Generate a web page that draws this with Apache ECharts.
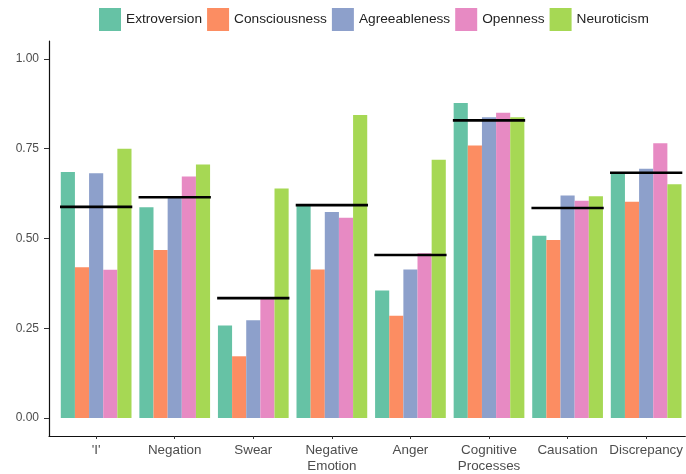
<!DOCTYPE html>
<html>
<head>
<meta charset="utf-8">
<title>Personality vs LIWC categories</title>
<script src="https://cdn.jsdelivr.net/npm/echarts@6/dist/echarts.min.js"></script>
<style>
  html, body { margin: 0; padding: 0; background: #fff; }
  #chart { width: 686px; height: 474px; }
</style>
</head>
<body>
<div id="chart"></div>
<script>
// categories on the x axis
var categories = ["'I'", "Negation", "Swear", "Negative\nEmotion", "Anger", "Cognitive\nProcesses", "Causation", "Discrepancy"];

// values per trait
var extroversion  = [0.685, 0.587, 0.258, 0.595, 0.355, 0.877, 0.508, 0.683];
var consciousness = [0.420, 0.468, 0.172, 0.414, 0.285, 0.759, 0.496, 0.602];
var agreeableness = [0.682, 0.615, 0.272, 0.574, 0.414, 0.838, 0.620, 0.694];
var openness      = [0.413, 0.673, 0.332, 0.558, 0.459, 0.850, 0.605, 0.765];
var neuroticism   = [0.750, 0.706, 0.639, 0.844, 0.719, 0.838, 0.618, 0.651];

// black horizontal line per category
var means = [0.588, 0.615, 0.334, 0.593, 0.454, 0.829, 0.585, 0.683];

var yTicks = [0, 0.25, 0.5, 0.75, 1];
var xTicks = [1, 2, 3, 4, 5, 6, 7, 8];

var traitNames = ["Extroversion", "Consciousness", "Agreeableness", "Openness", "Neuroticism"];
var traitValues = [extroversion, consciousness, agreeableness, openness, neuroticism];
var traitColors = ["#66C2A5", "#FC8D62", "#8DA0CB", "#E78AC3", "#A6D854"];

function toPoints(arr) {
	var pts = [];
	for (var i = 0; i < arr.length; i++) {
		pts.push([i + 1, arr[i]]);
	}
	return pts;
}

var series = [];
for (var k = 0; k < traitNames.length; k++) {
	series.push({
		name: traitNames[k],
		type: 'bar',
		data: toPoints(traitValues[k]),
		barGap: '0%',
		barCategoryGap: '10%',
		itemStyle: { color: traitColors[k] }
	});
}

series.push({
	name: 'mean',
	type: 'custom',
	z: 10,
	clip: false,
	data: toPoints(means),
	encode: { x: 0, y: 1 },
	renderItem: function (params, api) {
		var x = api.value(0), y = api.value(1);
		var p1 = api.coord([x - 0.46, y]);
		var p2 = api.coord([x + 0.46, y]);
		return {
			type: 'line',
			shape: { x1: p1[0], y1: p1[1], x2: p2[0], y2: p2[1] },
			style: { stroke: '#000', lineWidth: 2.6 }
		};
	}
});

var chart = echarts.init(document.getElementById('chart'));
var option = {
	animation: false,
	backgroundColor: '#fff',
	textStyle: { fontFamily: 'Liberation Sans, Arial, sans-serif' },
	legend: {
		data: traitNames,
		left: 99,
		top: 8,
		padding: 0,
		icon: 'rect',
		itemWidth: 22,
		itemHeight: 23,
		itemGap: 5,
		selectedMode: false,
		textStyle: { fontSize: 13.7, color: '#222' }
	},
	// the picture is cut on the right, so the axis stops short of 8.6
	grid: { left: 49, top: 41, right: 0, height: 397 },
	xAxis: {
		type: 'value',
		min: 0.4,
		max: 8.498,
		axisLine: { onZero: false, lineStyle: { color: '#111', width: 1.2 } },
		axisTick: { customValues: xTicks, length: 3, lineStyle: { color: '#333' } },
		axisLabel: {
			customValues: xTicks,
			formatter: function (v) { return categories[Math.round(v) - 1]; },
			fontSize: 13.4,
			color: '#4d4d4d',
			lineHeight: 15.5,
			margin: 7
		},
		splitLine: { show: false }
	},
	yAxis: {
		type: 'value',
		min: -0.05,
		max: 1.05,
		axisLine: { show: true, onZero: false, lineStyle: { color: '#111', width: 1.2 } },
		axisTick: { show: true, customValues: yTicks, length: 5, lineStyle: { color: '#333' } },
		axisLabel: {
			customValues: yTicks,
			formatter: function (v) { return v.toFixed(2); },
			fontSize: 12,
			color: '#4d4d4d',
			margin: 10
		},
		splitLine: { show: false }
	},
	series: series
};
chart.setOption(option);
</script>
</body>
</html>
